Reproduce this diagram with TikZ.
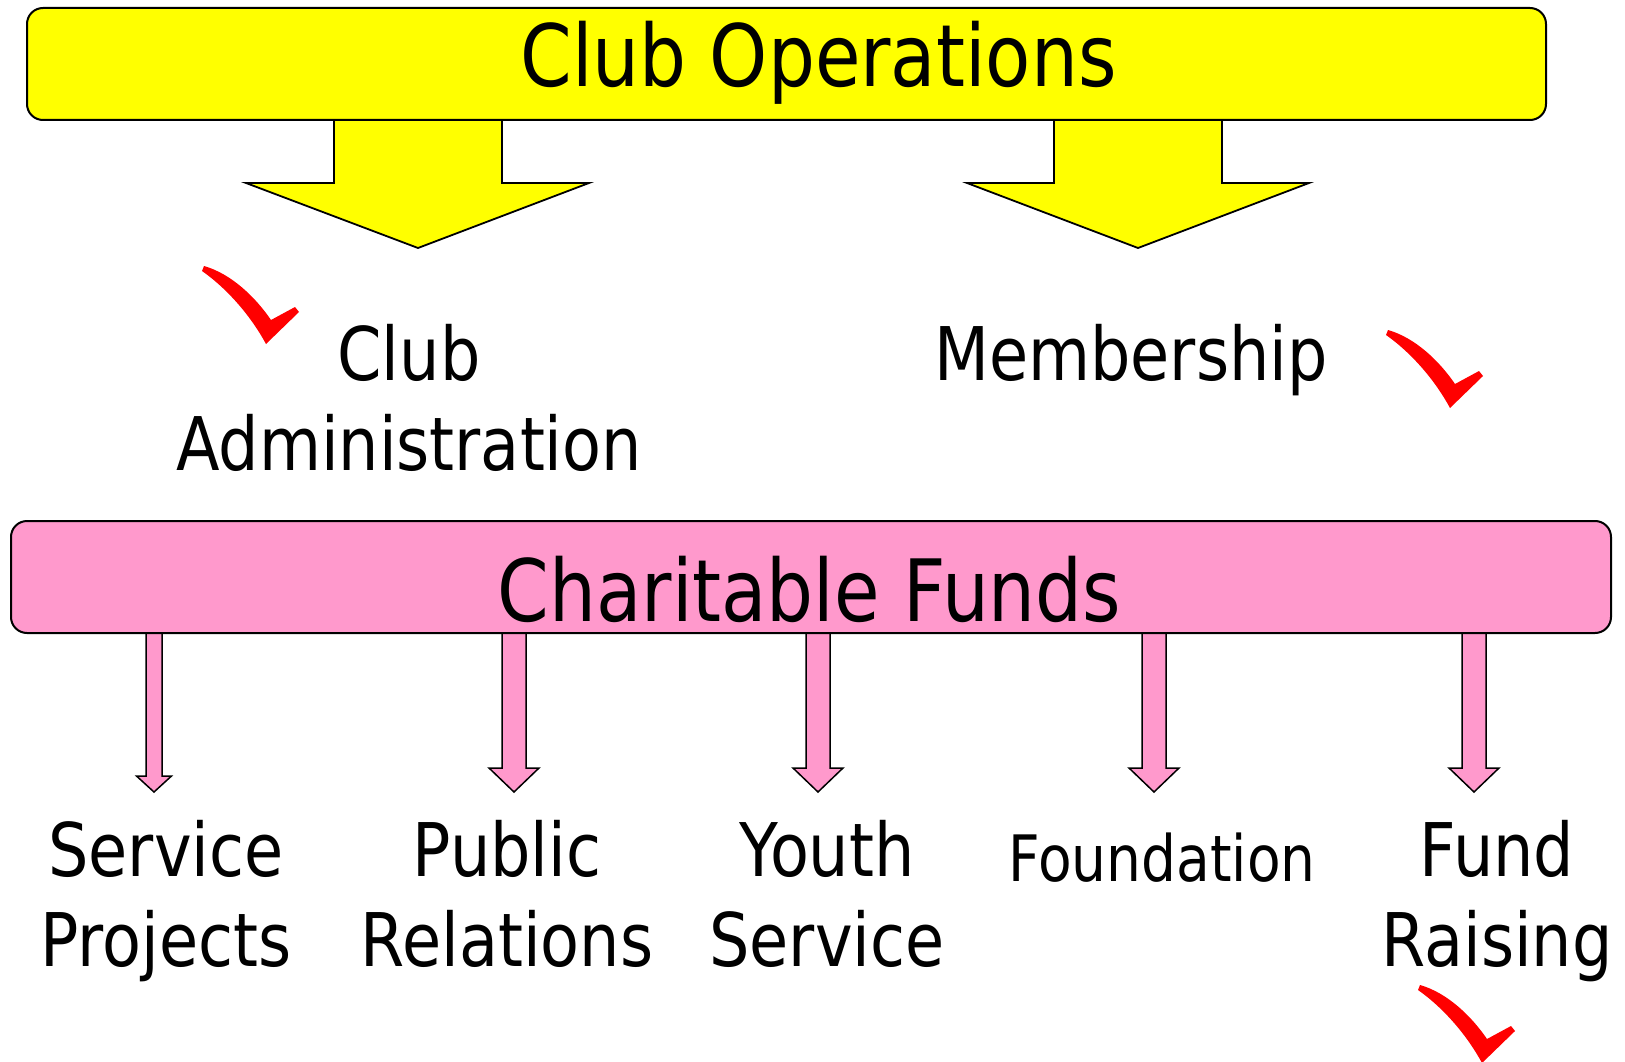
\documentclass[tikz,border=0pt]{standalone}
\usepackage{fontspec}
\setmainfont{DejaVu Sans}[FakeStretch=0.86]
\definecolor{yellowfill}{HTML}{FFFF00}
\definecolor{pinkfill}{HTML}{FF99CC}
\definecolor{tickred}{HTML}{FF0000}
\begin{document}
\begin{tikzpicture}[x=1pt,y=-1pt,line join=miter]
\useasboundingbox (0,0) rectangle (1625,1062);
\tikzset{
  bar/.style={draw=black,line width=2pt,rounded corners=16pt,inner sep=0pt,anchor=north west},
  yarrow/.style={draw=black,line width=1.8pt,fill=yellowfill},
  parrow/.style={draw=black,line width=1.5pt,fill=pinkfill},
  bigtext/.style={font=\fontsize{86}{103}\selectfont,inner sep=0pt,anchor=base},
  lbl/.style={font=\fontsize{74}{90}\selectfont,inner sep=0pt,anchor=base,align=center},
  smalllbl/.style={font=\fontsize{64}{77}\selectfont,inner sep=0pt,anchor=base},
  tick/.pic={
    \fill[tickred] (0,0) .. controls (28,8) and (52,32) .. (67,54)
      -- (91,41) -- (95,46) -- (62,78)
      .. controls (48,52) and (25,24) .. (-2,5) -- cycle;
  }
}
% yellow block arrows (drawn below the bar)
\filldraw[yarrow] (334,119) -- (334,183) -- (246,183) -- (418,248) -- (589,183) -- (502,183) -- (502,119);
\filldraw[yarrow] (1054,119) -- (1054,183) -- (967,183) -- (1138,248) -- (1309,183) -- (1222,183) -- (1222,119);
% pink arrows
\filldraw[parrow] (146,632) -- (146,776) -- (136.5,776) -- (154,792) -- (171.5,776) -- (162,776) -- (162,632);
\filldraw[parrow] (502,632) -- (502,768) -- (489,768) -- (514,792) -- (539,768) -- (526,768) -- (526,632);
\filldraw[parrow] (806,632) -- (806,768) -- (793,768) -- (818,792) -- (843,768) -- (830,768) -- (830,632);
\filldraw[parrow] (1142,632) -- (1142,768) -- (1129,768) -- (1154,792) -- (1179,768) -- (1166,768) -- (1166,632);
\filldraw[parrow] (1462,632) -- (1462,768) -- (1449,768) -- (1474,792) -- (1499,768) -- (1486,768) -- (1486,632);
% bars
\node[bar,fill=yellowfill,minimum width=1519pt,minimum height=112pt] (ops) at (26,7) {};
\node[bar,fill=pinkfill,minimum width=1600pt,minimum height=112pt] (funds) at (10,520) {};
\node[bigtext] (opstext) at (818.5,87) {Club Operations};
\node[bigtext] (fundstext) at (809.5,621) {Charitable Funds};
% labels (base = baseline of last line)
\node[lbl] (adm) at (409,470) {Club\\Administration};
\node[lbl] (mem) at (1131,380) {Membership};
\node[lbl] (sp) at (166,966) {Service\\Projects};
\node[lbl] (pr) at (507,966) {Public\\Relations};
\node[lbl] (ys) at (827,966) {Youth\\Service};
\node[smalllbl] (fd) at (1162,881) {Foundation};
\node[lbl] (fr) at (1497,966) {Fund\\Raising};
% ticks
\pic at (204,266) {tick};
\pic at (1388,330) {tick};
\pic at (1420,985) {tick};
\end{tikzpicture}
\end{document}
